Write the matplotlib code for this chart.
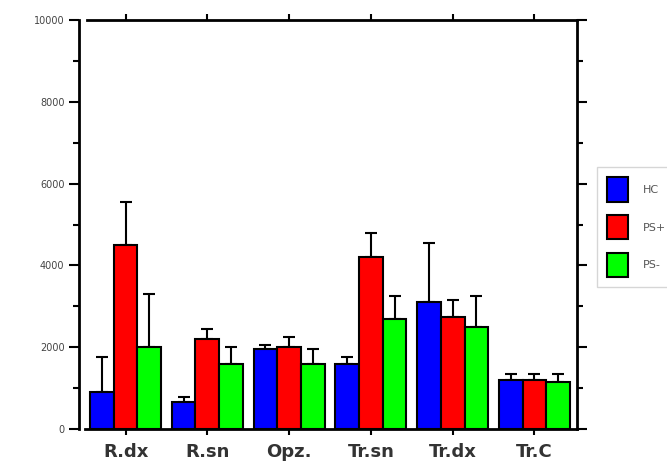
import matplotlib.pyplot as plt
import numpy as np

# data
regions = ['R.dx', 'R.sn', 'Opz.', 'Tr.sn', 'Tr.dx', 'Tr.C']
groups = ['HC', 'PS+', 'PS-']
hc = [900, 650, 1950, 1600, 3100, 1200]
hc_err = [850, 130, 100, 150, 1450, 150]
ps_plus = [4500, 2200, 2000, 4200, 2750, 1200]
ps_plus_err = [1050, 250, 250, 600, 400, 150]
ps_minus = [2000, 1600, 1600, 2700, 2500, 1150]
ps_minus_err = [1300, 400, 350, 550, 750, 200]
colors = ['#0000ff', '#ff0000', '#00ff00']

fig = plt.figure(figsize=(6.67, 4.65), dpi=100)
ax = fig.add_axes([0.1184, 0.0774, 0.7466, 0.8796])

x = np.arange(len(regions))
w = 0.29
series = [(hc, hc_err), (ps_plus, ps_plus_err), (ps_minus, ps_minus_err)]
for i, (vals, errs) in enumerate(series):
    pos = x + (i - 1) * w
    ax.bar(pos, vals, w, color=colors[i], edgecolor='black', linewidth=1.5,
           label=groups[i], zorder=2)
    ax.errorbar(pos, vals, yerr=[np.zeros(len(errs)), errs], fmt='none',
                ecolor='black', elinewidth=1.5, capsize=4, capthick=1.5, zorder=1)

ax.set_xlim(-0.57, 5.52)
ax.set_ylim(0, 10000)

ax.set_yticks(np.arange(0, 10001, 2000))
ax.set_yticks(np.arange(0, 10001, 1000), minor=True)
ax.tick_params(axis='y', which='both', direction='out', left=True, right=True,
               labelleft=True, labelright=False, width=1.5, colors='black',
               labelcolor='#444444', labelsize=7)
ax.tick_params(axis='y', which='major', length=7)
ax.tick_params(axis='y', which='minor', length=4)

ax.set_xticks(x)
ax.set_xticklabels(regions, fontsize=13, fontweight='bold', color='#333333')
ax.tick_params(axis='x', direction='out', top=True, bottom=True, length=4,
               width=1.5, pad=6)

for s in ['left', 'right', 'top', 'bottom']:
    ax.spines[s].set_linewidth(2)
ax.spines['top'].set_bounds(-0.47, 5.52)
ax.spines['bottom'].set_bounds(-0.5, 5.52)

leg = fig.legend(loc='upper left', bbox_to_anchor=(0.886, 0.652), frameon=True,
                 fancybox=False, fontsize=8, handlelength=1.9, handleheight=3.0,
                 labelspacing=1.2, borderpad=0.9, handletextpad=1.35)
leg.get_frame().set_edgecolor('#cccccc')
leg.get_frame().set_linewidth(1)
for t in leg.get_texts():
    t.set_color('#555555')

fig.savefig('out.png', dpi=100)
